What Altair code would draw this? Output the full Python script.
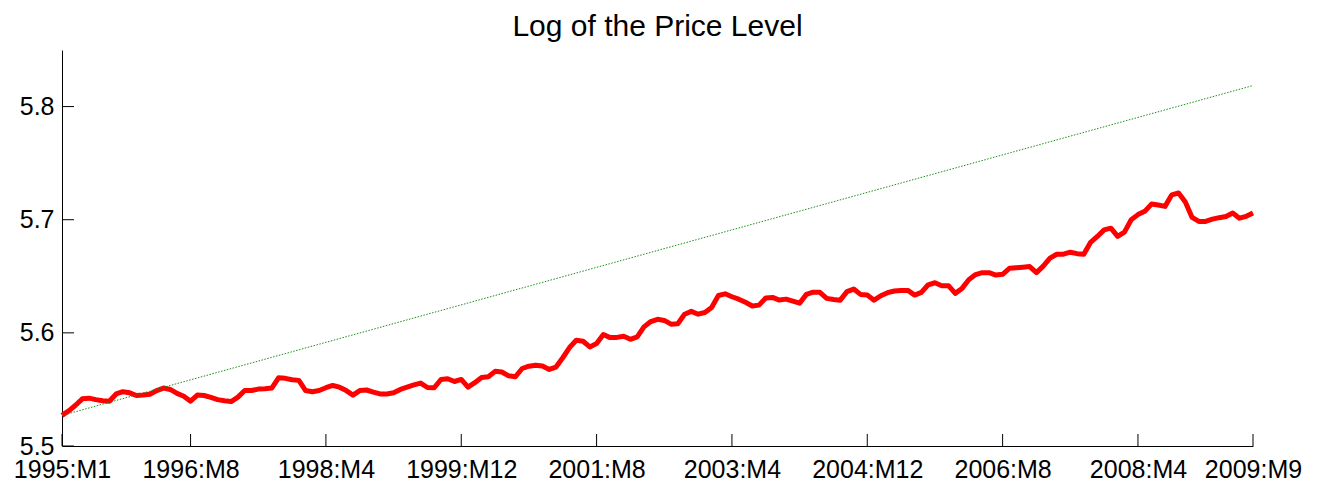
import altair as alt
import pandas as pd

# Log of the price level, monthly, 1995:M1 .. 2009:M9
price_log = [
    5.527, 5.531, 5.536, 5.5417, 5.5423, 5.541, 5.540, 5.5396, 5.546, 5.548,
    5.547, 5.5446, 5.545, 5.5458, 5.549, 5.5512, 5.550, 5.5465, 5.544, 5.5396,
    5.545, 5.5446, 5.543, 5.541, 5.540, 5.5393, 5.5432, 5.549, 5.549, 5.5503,
    5.5506, 5.5512, 5.5603, 5.5598, 5.5585, 5.558, 5.549, 5.548, 5.549, 5.5515,
    5.5535, 5.552, 5.549, 5.545, 5.549, 5.5495, 5.5476, 5.546, 5.546, 5.547,
    5.550, 5.552, 5.554, 5.5556, 5.5517, 5.5515, 5.5588, 5.5594, 5.557, 5.5588,
    5.552, 5.556, 5.5605, 5.5612, 5.566, 5.5654, 5.562, 5.5612, 5.5685, 5.5705,
    5.5713, 5.5707, 5.5677, 5.5698, 5.578, 5.587, 5.5934, 5.5926, 5.5876, 5.5905,
    5.5985, 5.5958, 5.596, 5.597, 5.5943, 5.5964, 5.6053, 5.610, 5.612, 5.611,
    5.6077, 5.608, 5.6165, 5.619, 5.6165, 5.618, 5.6225, 5.6330, 5.6345, 5.6319,
    5.6298, 5.627, 5.6238, 5.6245, 5.6308, 5.6313, 5.629, 5.6298, 5.628, 5.6262,
    5.634, 5.636, 5.6358, 5.6305, 5.6295, 5.6289, 5.6364, 5.6387, 5.634, 5.6334,
    5.6289, 5.6328, 5.6355, 5.637, 5.6375, 5.6375, 5.6334, 5.6358, 5.6425, 5.6443,
    5.6417, 5.6417, 5.6349, 5.6393, 5.647, 5.6515, 5.6532, 5.6532, 5.6511, 5.6517,
    5.657, 5.6575, 5.658, 5.6586, 5.6532, 5.659, 5.666, 5.6695, 5.6695, 5.6713,
    5.670, 5.6695, 5.6800, 5.6852, 5.691, 5.6925, 5.6852, 5.689, 5.6999, 5.7045,
    5.7074, 5.7138, 5.713, 5.7118, 5.722, 5.7236, 5.7156, 5.702, 5.6985, 5.6985,
    5.7005, 5.7018, 5.7029, 5.7059, 5.7014, 5.703, 5.7059,
]

# Trend line end points (green dotted)
trend_t = [0, 176]
trend_v = [5.527, 5.8186]

# Axis ticks
tick_idx = [0, 19, 39, 59, 79, 99, 119, 139, 159, 176]
tick_labels = ["1995:M1", "1996:M8", "1998:M4", "1999:M12", "2001:M8",
               "2003:M4", "2004:M12", "2006:M8", "2008:M4", "2009:M9"]
y_ticks = [5.5, 5.6, 5.7, 5.8]

W, H = 1191, 396
FONT = "Liberation Sans"

df = pd.DataFrame({"t": list(range(len(price_log))), "v": price_log})
trend = pd.DataFrame({"t": trend_t, "v": trend_v})
yt = pd.DataFrame({"v": y_ticks})
xt = pd.DataFrame({"t": tick_idx})

x_scale = alt.Scale(domain=[0, 176], nice=False, zero=False)
y_scale = alt.Scale(domain=[5.5, 5.85], nice=False, zero=False)

label_expr = ("[" + ",".join(f"'{l}'" for l in tick_labels) + "][indexof(["
              + ",".join(str(i) for i in tick_idx) + "], datum.value)]")

x_axis = alt.Axis(values=tick_idx, labelExpr=label_expr, title=None, grid=False,
                  ticks=False, domainColor="black", domainWidth=1,
                  labelFontSize=25, labelColor="black", labelPadding=11,
                  labelFont=FONT, labelFlush=False, labelOverlap=False)
y_axis = alt.Axis(values=y_ticks, format=".1f", title=None, grid=False,
                  ticks=False, domainColor="black", domainWidth=1,
                  labelFontSize=25, labelColor="black", labelPadding=8,
                  labelFont=FONT, labelFlush=False, labelOverlap=False)

red = alt.Chart(df).mark_line(color="#ff0000", strokeWidth=5, strokeJoin="round").encode(
    x=alt.X("t:Q", scale=x_scale, axis=x_axis),
    y=alt.Y("v:Q", scale=y_scale, axis=y_axis),
)
green = alt.Chart(trend).mark_line(color="#1e8c1e", strokeWidth=1, strokeDash=[1.5, 1.5]).encode(
    x=alt.X("t:Q", scale=x_scale),
    y=alt.Y("v:Q", scale=y_scale),
)
ytick_rules = alt.Chart(yt).mark_rule(color="black", strokeWidth=1).encode(
    y=alt.Y("v:Q", scale=y_scale), x=alt.value(0), x2=alt.value(12)
)
xtick_rules = alt.Chart(xt).mark_rule(color="black", strokeWidth=1).encode(
    x=alt.X("t:Q", scale=x_scale), y=alt.value(H), y2=alt.value(H - 12)
)

chart = alt.layer(red, green, ytick_rules, xtick_rules).properties(
    width=W, height=H,
    title=alt.TitleParams("Log of the Price Level", fontSize=30, font=FONT,
                          fontWeight="normal", color="black", anchor="middle", offset=8),
    autosize=alt.AutoSizeParams(type="none"),
    padding={"left": 54, "top": 42, "right": 60, "bottom": 42},
).configure(background="white").configure_view(stroke=None)

chart.save("out.html", embed_options={"renderer": "svg", "actions": False})
